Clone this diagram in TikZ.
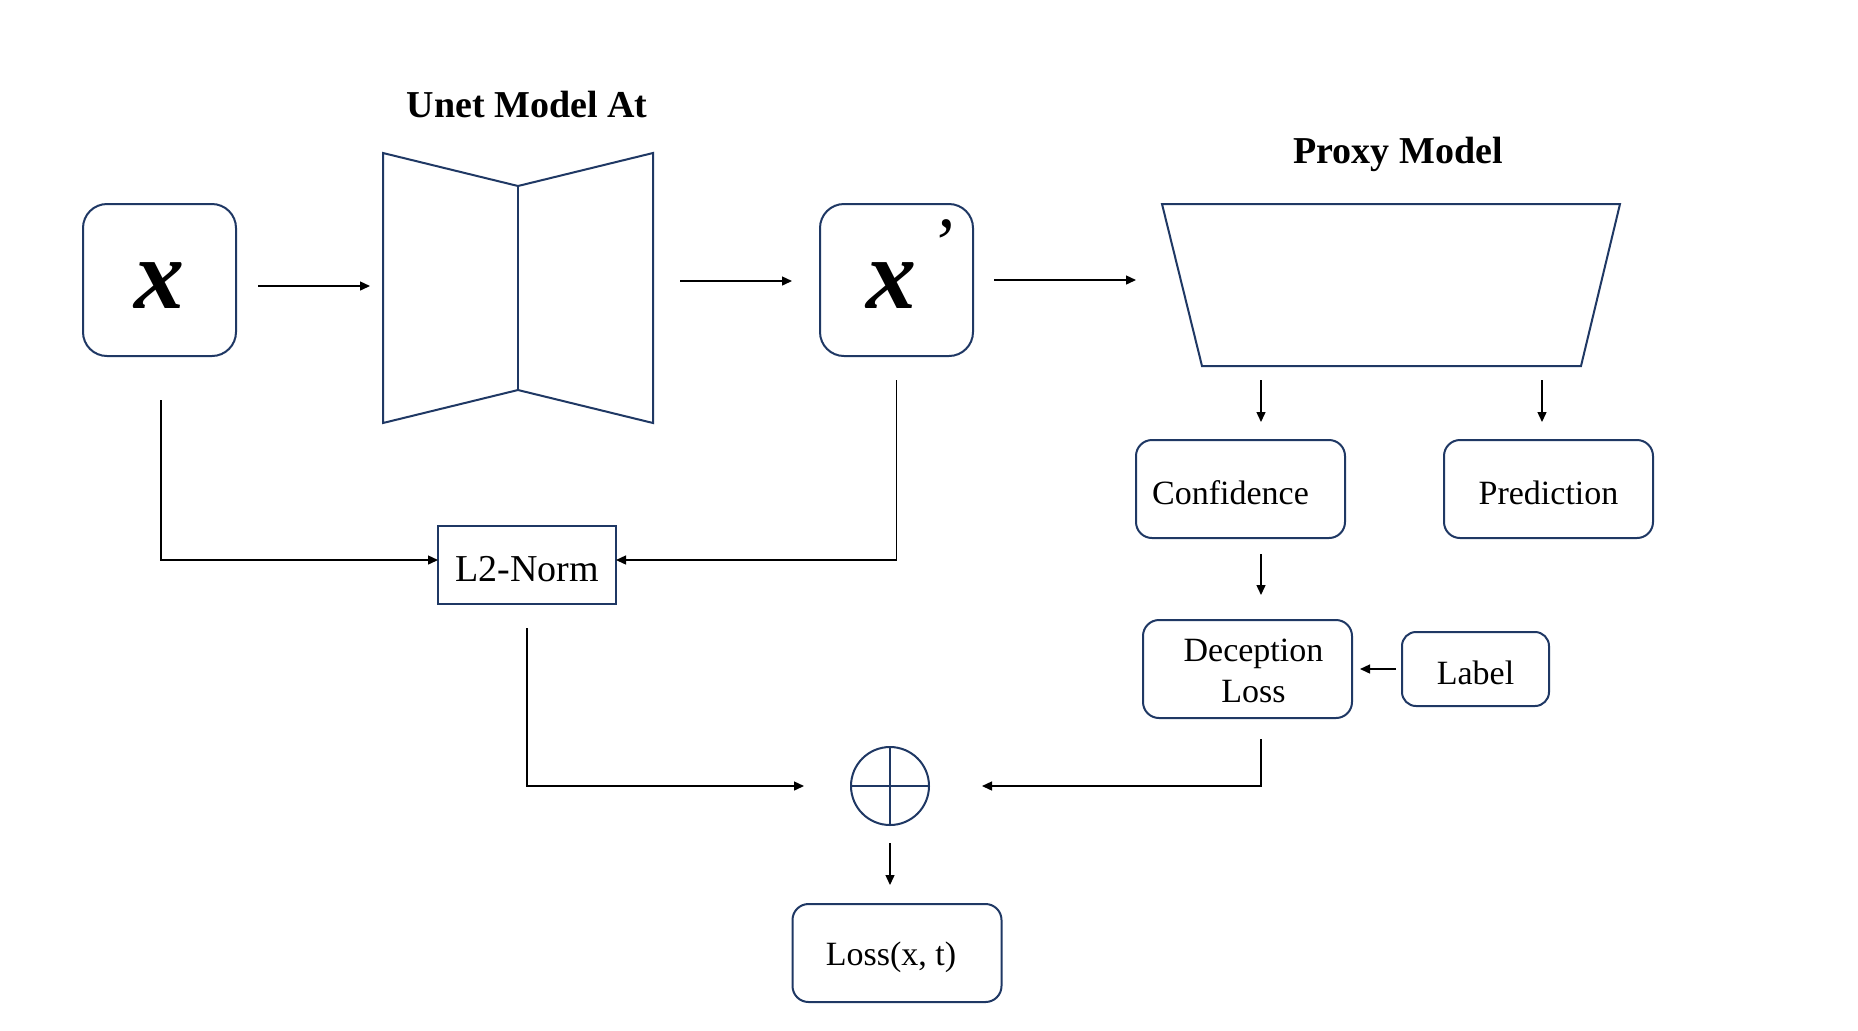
\documentclass[tikz,border=0pt]{standalone}
\usepackage{fontspec}
\setmainfont{Liberation Serif}
\usetikzlibrary{arrows.meta}
\definecolor{navy}{RGB}{31,56,100}
\newcommand\lowr[2]{\raisebox{-#1}[\height][\depth]{#2}}
\begin{document}
\begin{tikzpicture}[x=0.5pt,y=-0.5pt,
  box/.style={draw=navy,line width=1pt,rounded corners=8pt,minimum width=104.5pt,minimum height=49pt,inner sep=0pt,font=\fontsize{17}{20}\selectfont},
  bigbox/.style={draw=navy,line width=1pt,rounded corners=12pt,minimum width=76.5pt,minimum height=76pt,inner sep=0pt,font=\fontsize{50}{56}\selectfont\bfseries\itshape},
  title/.style={font=\fontsize{19}{22}\selectfont\bfseries},
  shape line/.style={draw=navy,line width=1pt},
  conn/.style={draw=black,line width=0.7pt,-{Triangle[length=5pt,width=4.5pt]}},
  plain/.style={draw=black,line width=0.7pt}
]
\useasboundingbox (0,0) rectangle (1858,1030);
\fill[white] (0,0) rectangle (1858,1030);

% titles
\node[title] (ttlu) at (527,104) {Unet Model At};
\node[title] (ttlp) at (1398,154) {Proxy Model};

% input boxes
\node[bigbox] (xb) at (159.5,280) {\lowr{3pt}{x}};
\node[bigbox] (xp) at (896.5,280) {\hspace*{-5pt}\lowr{3pt}{x}};
\node[font=\fontsize{36}{40}\selectfont\itshape] (xpprime) at (941,244) {’};

% Unet shape
\draw[shape line,line join=miter] (383,153) -- (518,186) -- (653,153) -- (653,423) -- (518,390) -- (383,423) -- cycle;
\draw[shape line] (518,186) -- (518,390);
\coordinate (unetL) at (383,286);
\coordinate (unetR) at (653,281);

% Proxy shape
\draw[shape line,line join=miter] (1162,204) -- (1620,204) -- (1581,366) -- (1202,366) -- cycle;
\coordinate (proxyL) at (1181,280);
\coordinate (pbc) at (1261,366);
\coordinate (pbp) at (1542,366);

% boxes
\node[box] (conf) at (1240.5,489) {\hspace*{-10pt}\lowr{1.8pt}{Confidence}};
\node[box] (pred) at (1548.5,489) {\lowr{1.8pt}{Prediction}};
\node[box] (dec) at (1247.5,669) {\hspace*{6pt}\lowr{2.5pt}{\begin{tabular}{@{}c@{}}Deception\\[0.5pt]Loss\end{tabular}}};
\node[box,minimum width=73.5pt,minimum height=37pt,rounded corners=7pt] (lab) at (1475.5,669) {\lowr{1.8pt}{Label}};
\node[draw=navy,line width=1pt,minimum width=89pt,minimum height=39pt,inner sep=0pt,font=\fontsize{19}{22}\selectfont] (l2) at (527,565) {\lowr{1.8pt}{L2-Norm}};
\coordinate (l2w) at (438,560);
\coordinate (l2e) at (616,560);
\node[draw=navy,line width=1pt,circle,minimum size=39pt,inner sep=0pt] (sum) at (890,786) {};
\draw[navy,line width=1pt] (sum.north) -- (sum.south) (sum.west) -- (sum.east);
\node[box] (loss) at (897,953) {\hspace*{-6pt}\lowr{2pt}{Loss(x, t)}};

% connectors
\draw[conn,shorten <=10.5pt,shorten >=6.5pt] (xb.east |- unetL) -- (unetL);
\draw[conn,shorten <=13.5pt,shorten >=13.5pt] (unetR) -- (xp.west |- unetR);
\draw[conn,shorten <=10pt,shorten >=22.5pt] (xp.east) -- (proxyL);
\draw[conn,shorten <=7pt,shorten >=8.5pt] (pbc) -- (pbc |- conf.north);
\draw[conn,shorten <=7pt,shorten >=8.5pt] (pbp) -- (pbp |- pred.north);
\draw[conn,shorten <=7.5pt,shorten >=12pt] (conf.south -| pbc) -- (dec.north -| pbc);
\draw[conn,shorten <=2.5pt,shorten >=3.5pt] (lab.west) -- (lab.west -| dec.east);
\draw[conn,shorten <=10pt,shorten >=26pt] (dec.south -| pbc) |- (sum.east);
\draw[conn,shorten <=11.5pt,shorten >=23pt] (l2.south) |- (sum.west);
\draw[conn,shorten <=8.5pt,shorten >=9pt] (sum.south) -- (loss.north -| sum.south);
\coordinate (xbl) at (161,356);
\draw[conn,shorten <=22pt] (xbl) |- (l2w);
\draw[conn,shorten <=11.5pt] (xp.south) |- (l2e);
\end{tikzpicture}
\end{document}
